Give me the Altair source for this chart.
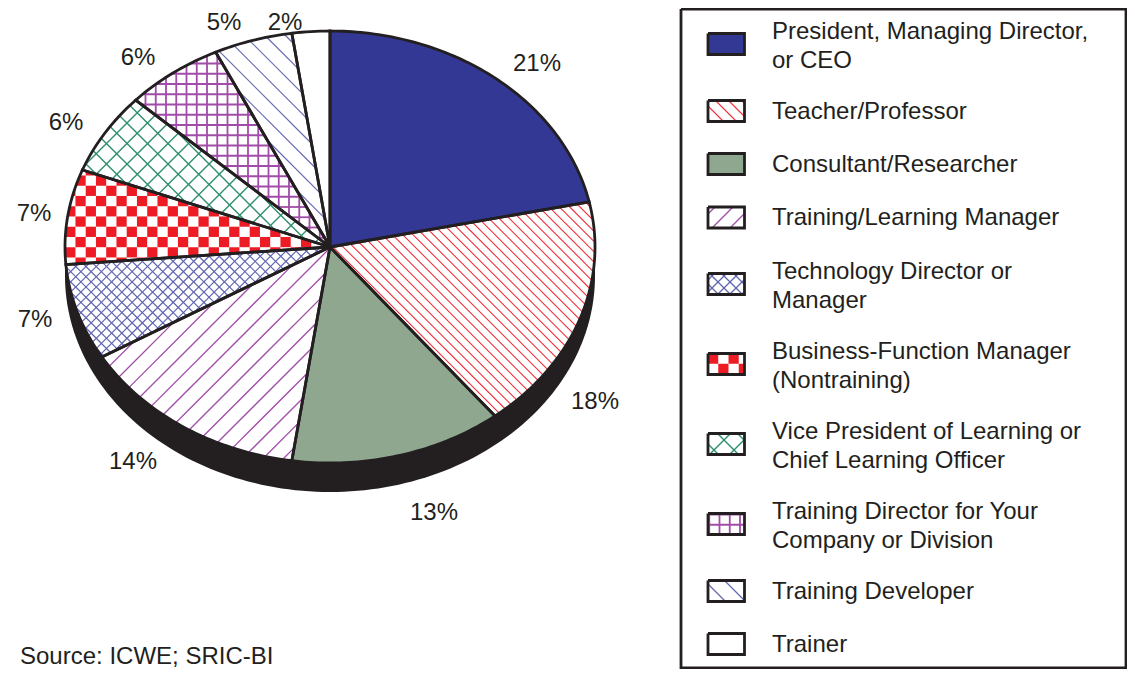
import math
import altair as alt
import pandas as pd

# ---- data -----------------------------------------------------------------
CATEGORIES = ["President, Managing Director,\nor CEO", "Teacher/Professor", "Consultant/Researcher",
              "Training/Learning Manager", "Technology Director or\nManager",
              "Business-Function Manager\n(Nontraining)", "Vice President of Learning or\nChief Learning Officer",
              "Training Director for Your\nCompany or Division", "Training Developer", "Trainer"]
SHARES = [21.65, 17.65, 13.0, 14.2, 7.2, 7.1, 6.1, 6.0, 4.8, 2.3]
LABELS = ["21%", "18%", "13%", "14%", "7%", "7%", "6%", "6%", "5%", "2%"]
LABEL_X = [537, 595, 434, 133, 35, 34, 66, 138, 224, 285]
LABEL_Y = [64, 402, 513, 462, 320, 214, 123, 58, 23, 23]
SWATCH_Y = [44, 111, 164, 217.5, 284, 364, 444, 524, 591, 644]
SOURCE = "Source: ICWE; SRIC-BI"

DARK = "#231f20"
FILLS = ["#333894", "#ffffff", "#8fa78f", "#ffffff", "#ffffff", "#ffffff", "#ffffff", "#ffffff", "#ffffff", "#ffffff"]
# pattern per category: kind, colour, spacing in slice, spacing in swatch, stroke width
PATTERNS = [None,
            ("back", "#f0303a", 10.25, 13, 1.1),
            None,
            ("fwd", "#a04ca8", 20.5, 18, 1.3),
            ("cross", "#5f64b0", 10.25, 12, 1.2),
            ("checker", "#ed1c24", 10.25, 10.25, 0),
            ("cross", "#2f8f70", 20.5, 20, 1.4),
            ("grid", "#a04ca8", 10.25, 10.25, 1.8),
            ("back", "#666ab2", 20.5, 20, 1.2),
            None]

W, H = 1119, 661
OX, OY = 8, 8            # the page margin: coordinates below are page pixels
CX, CY, RX, RY, DEPTH = 330, 247, 265, 216, 29
PHASE = 4


def ell(t, dy=0):
    return (CX + RX * math.sin(t), CY + dy - RY * math.cos(t))


def wedge(a, b):
    n = max(4, int((b - a) * 60))
    return [(CX, CY)] + [ell(a + (b - a) * i / n) for i in range(n + 1)]


def clip_line(poly, px, py, dx, dy):
    ts = []
    n = len(poly)
    for i in range(n):
        ax, ay = poly[i]
        bx, by = poly[(i + 1) % n]
        ex, ey = bx - ax, by - ay
        den = dx * ey - dy * ex
        if abs(den) < 1e-9:
            continue
        t = ((ax - px) * ey - (ay - py) * ex) / den
        u = ((ax - px) * dy - (ay - py) * dx) / den
        if -1e-9 <= u <= 1 + 1e-9:
            ts.append(t)
    if len(ts) < 2:
        return None
    t0, t1 = min(ts), max(ts)
    if t1 - t0 < 1e-6:
        return None
    return (px + t0 * dx, py + t0 * dy, px + t1 * dx, py + t1 * dy)


def clip_poly(subject, poly):
    area = sum(poly[i][0] * poly[(i + 1) % len(poly)][1] - poly[(i + 1) % len(poly)][0] * poly[i][1] for i in range(len(poly)))
    sgn = 1 if area > 0 else -1
    out = subject
    for i in range(len(poly)):
        ax, ay = poly[i]
        bx, by = poly[(i + 1) % len(poly)]
        inp, out = out, []
        side = lambda p: sgn * ((bx - ax) * (p[1] - ay) - (by - ay) * (p[0] - ax))
        for j in range(len(inp)):
            p, q = inp[j], inp[(j + 1) % len(inp)]
            sp, sq = side(p), side(q)
            if sp >= 0:
                out.append(p)
            if sp * sq < 0:
                f = sp / (sp - sq)
                out.append((p[0] + f * (q[0] - p[0]), p[1] + f * (q[1] - p[1])))
        if not out:
            return []
    return out


def bounds(poly):
    xs, ys = zip(*poly)
    return min(xs), max(xs), min(ys), max(ys)


rules, polys, outlines, fills = [], [], [], []


def add_poly(store, key, pts, **kw):
    for i, (x, y) in enumerate(pts + [pts[0]]):
        store.append({"key": key, "i": i, "x": x, "y": y, **kw})


def add_lines(poly, kind, color, sp, sw, swatch=False):
    x0, x1, y0, y1 = bounds(poly)
    def sweep(dx, dy, sign):
        lo = min(x0 + sign * y0, x1 + sign * y1, x0 + sign * y1, x1 + sign * y0)
        hi = max(x0 + sign * y0, x1 + sign * y1, x0 + sign * y1, x1 + sign * y0)
        k = math.floor(lo / sp) - 1
        while k * sp <= hi:
            seg = clip_line(poly, k * sp + PHASE, 0, dx, dy)
            if seg:
                rules.append({"x": seg[0], "y": seg[1], "x2": seg[2], "y2": seg[3], "c": color, "w": sw})
            k += 1
    if kind in ("back", "cross"):
        sweep(1, 1, -1)      # x - y = const
    if kind in ("fwd", "cross"):
        sweep(1, -1, 1)      # x + y = const
    if kind == "grid":
        i = math.floor(x0 / sp)
        while i * sp <= x1:
            seg = clip_line(poly, i * sp + 2, 0, 0, 1)
            if seg:
                rules.append({"x": seg[0], "y": seg[1], "x2": seg[2], "y2": seg[3], "c": color, "w": sw})
            i += 1
        j = math.floor(y0 / sp)
        while j * sp <= y1:
            seg = clip_line(poly, 0, j * sp + 2, 1, 0)
            if seg:
                rules.append({"x": seg[0], "y": seg[1], "x2": seg[2], "y2": seg[3], "c": color, "w": sw})
            j += 1


def add_checker(poly, key, color, cell, fx=85.7, fy=226.7):
    x0, x1, y0, y1 = bounds(poly)
    i0, i1 = math.floor((x0 - fx) / cell), math.ceil((x1 - fx) / cell)
    j0, j1 = math.floor((y0 - fy) / cell), math.ceil((y1 - fy) / cell)
    for i in range(i0, i1 + 1):
        for j in range(j0, j1 + 1):
            if (i + j) % 2:
                continue
            a, b = fx + i * cell, fy + j * cell
            piece = clip_poly([(a, b), (a + cell, b), (a + cell, b + cell), (a, b + cell)], poly)
            if len(piece) >= 3:
                add_poly(polys, f"{key}-{i}-{j}", piece, fill=color)


# the dark rim below the pie
rim = [(CX - RX, CY)] + [ell(math.pi * 1.5 - math.pi * i / 120, DEPTH) for i in range(121)] + [(CX + RX, CY)]
rim_rows = []
add_poly(rim_rows, "rim", rim, fill=DARK)

total = sum(SHARES)
acc = 0.0
for n, share in enumerate(SHARES):
    a = 2 * math.pi * acc / total
    acc += share
    b = 2 * math.pi * acc / total
    poly = wedge(a, b)
    add_poly(fills, f"w{n}", poly, fill=FILLS[n])
    add_poly(outlines, f"w{n}", poly)
    # legend swatch
    sy = SWATCH_Y[n]
    box = [(708, sy - 10.5), (744.5, sy - 10.5), (744.5, sy + 10.5), (708, sy + 10.5)]
    add_poly(fills, f"s{n}", box, fill=FILLS[n])
    add_poly(outlines, f"s{n}", box)
    pat = PATTERNS[n]
    if pat:
        kind, color, sp, sp2, sw = pat
        if kind == "checker":
            add_checker(poly, f"cw{n}", color, sp)
            add_checker(box, f"cs{n}", color, sp2, 708, sy - 10.5)
        else:
            add_lines(poly, kind, color, sp, sw)
            add_lines(box, kind, color, sp2, sw)

add_poly(outlines, "frame", [(681, 9), (1126, 9), (1126, 668), (681, 668)])

texts = [{"x": x, "y": y, "t": t, "a": "c"} for x, y, t in zip(LABEL_X, LABEL_Y, LABELS)]
LINE_Y = [[32, 61], [112], [165], [218], [272, 301], [352, 381], [432, 461], [512, 541], [592], [645]]
for cat, ys in zip(CATEGORIES, LINE_Y):
    for part, y in zip(cat.split("\n"), ys):
        texts.append({"x": 772, "y": y, "t": part, "a": "l"})
texts.append({"x": 20, "y": 656.5, "t": SOURCE, "a": "l"})
txt = pd.DataFrame(texts)

X = alt.X("x:Q", scale=alt.Scale(domain=[OX, OX + W], range=[0, W], nice=False, zero=False), axis=None)
Y = alt.Y("y:Q", scale=alt.Scale(domain=[OY, OY + H], range=[0, H], nice=False, zero=False), axis=None)


def filled(rows):
    return alt.Chart(pd.DataFrame(rows)).mark_line(strokeWidth=0, interpolate="linear").encode(
        x=X, y=Y, order="i:Q", detail="key:N", fill=alt.Fill("fill:N", scale=None, legend=None))


layers = [
    filled(rim_rows),
    filled(fills),
    filled(polys),
    alt.Chart(pd.DataFrame(rules)).mark_rule().encode(
        x=X, y=Y, x2="x2:Q", y2="y2:Q",
        color=alt.Color("c:N", scale=None, legend=None),
        strokeWidth=alt.StrokeWidth("w:Q", scale=None, legend=None)),
    alt.Chart(pd.DataFrame(outlines)).mark_line(stroke=DARK, strokeWidth=2.8, strokeJoin="miter").encode(
        x=X, y=Y, order="i:Q", detail="key:N"),
    alt.Chart(txt[txt.a == "c"]).mark_text(font="Liberation Sans", fontSize=24, color=DARK, align="center", baseline="middle").encode(
        x=X, y=Y, text="t:N"),
    alt.Chart(txt[txt.a == "l"]).mark_text(font="Liberation Sans", fontSize=24, color=DARK, align="left", baseline="middle").encode(
        x=X, y=Y, text="t:N"),
]

chart = alt.layer(*layers).properties(
    width=W, height=H, padding=0, background="white",
    autosize=alt.AutoSizeParams(type="none")
).configure_view(stroke=None)

chart.save("out.html", embed_options={"renderer": "svg", "actions": False})
